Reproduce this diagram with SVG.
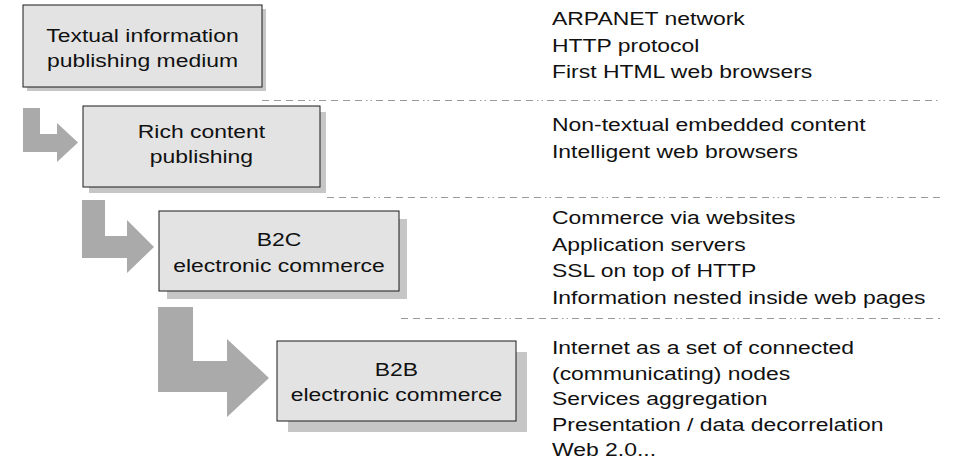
<svg xmlns="http://www.w3.org/2000/svg" width="953" height="464" viewBox="0 0 953 464">
<style>
.box{fill:#e3e3e3;stroke:#1a1a1a;stroke-width:1}
.shadow{fill:#c6c6c6}
.arrow{fill:#aaaaaa}
.sep{stroke:#9a9a9a;stroke-width:1;fill:none;stroke-dasharray:7 5 7 5 7 5 7 4 1.5 3 1.5 4}
text{font-family:"Liberation Sans",Arial,sans-serif;font-size:18.5px;fill:#111}
.c{text-anchor:middle}
</style>
<rect width="953" height="464" fill="#ffffff"/>
<g id="connectors">
<path class="arrow" d="M23,108 H40 V134 H57 V123 L78,142.5 L57,162 V152 H23 Z"/>
<path class="arrow" d="M82,200 H105 V236 H127 V220 L154,247 L127,273 V258 H82 Z"/>
<path class="arrow" d="M158,307 H193 V361 H227 V339 L269,378 L227,417 V392 H158 Z"/>
</g>
<g id="separators">
<line class="sep" x1="262" y1="100.5" x2="940" y2="100.5"/>
<line class="sep" x1="327" y1="197.5" x2="940" y2="197.5"/>
<line class="sep" x1="401" y1="318.5" x2="940" y2="318.5"/>
</g>
<g id="node1">
<rect class="shadow" x="27" y="9" width="239" height="82"/>
<rect class="box" x="23" y="5" width="239" height="82"/>
<g transform="translate(142.5,0) scale(1.24,1)">
<text class="c" x="0" y="42">Textual information</text>
<text class="c" x="0" y="67">publishing medium</text>
</g>
</g>
<g id="node2">
<rect class="shadow" x="89" y="112" width="237" height="81"/>
<rect class="box" x="83" y="106" width="237" height="81"/>
<g transform="translate(201.5,0) scale(1.24,1)">
<text class="c" x="0" y="138">Rich content</text>
<text class="c" x="0" y="163">publishing</text>
</g>
</g>
<g id="node3">
<rect class="shadow" x="167" y="219" width="240" height="80"/>
<rect class="box" x="159" y="211" width="240" height="80"/>
<g transform="translate(279,0) scale(1.24,1)">
<text class="c" x="0" y="246">B2C</text>
<text class="c" x="0" y="272">electronic commerce</text>
</g>
</g>
<g id="node4">
<rect class="shadow" x="288" y="352" width="239" height="80"/>
<rect class="box" x="277" y="341" width="239" height="80"/>
<g transform="translate(396.5,0) scale(1.24,1)">
<text class="c" x="0" y="376">B2B</text>
<text class="c" x="0" y="401">electronic commerce</text>
</g>
</g>
<g id="notes" transform="translate(552,0) scale(1.24,1)">
<text x="0" y="25">ARPANET network</text>
<text x="0" y="51.7">HTTP protocol</text>
<text x="0" y="78.4">First HTML web browsers</text>
<text x="0" y="131.5">Non-textual embedded content</text>
<text x="0" y="158">Intelligent web browsers</text>
<text x="0" y="224">Commerce via websites</text>
<text x="0" y="251">Application servers</text>
<text x="0" y="277.5">SSL on top of HTTP</text>
<text x="0" y="304">Information nested inside web pages</text>
<text x="0" y="354">Internet as a set of connected</text>
<text x="0" y="380">(communicating) nodes</text>
<text x="0" y="405.5">Services aggregation</text>
<text x="0" y="431">Presentation / data decorrelation</text>
<text x="0" y="456.5">Web 2.0...</text>
</g>
</svg>
